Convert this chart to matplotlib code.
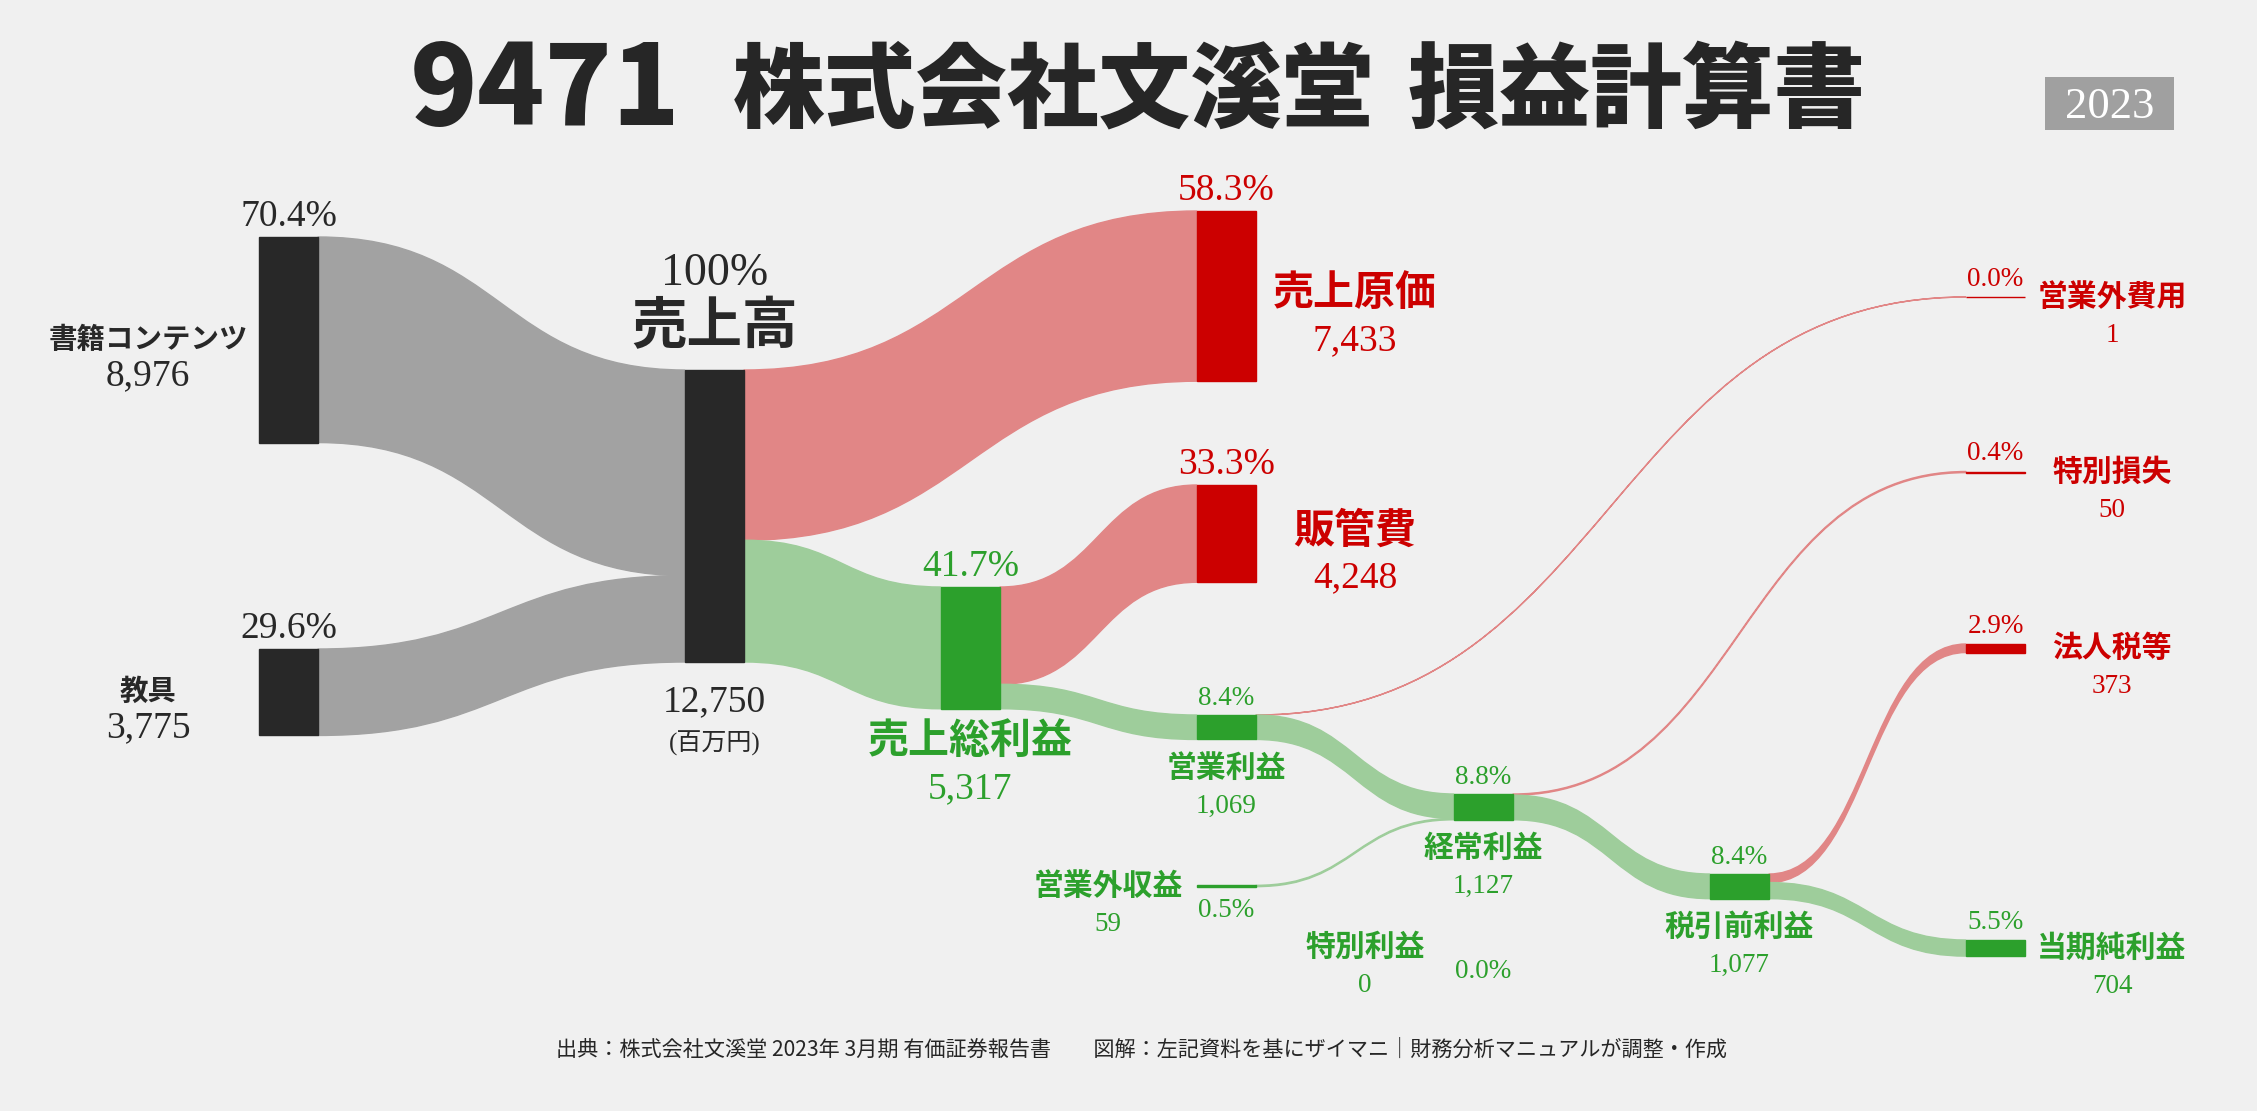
import matplotlib
matplotlib.use("Agg")
import matplotlib.pyplot as plt
from matplotlib.path import Path
from matplotlib.patches import PathPatch, Rectangle

# ------------------------------------
# 1. Data (百万円)
# ------------------------------------
segment_names = ["書籍コンテンツ", "教具"]
segment_values = [8976, 3775]
sales_value = 12750
cost_names = ["売上原価", "販管費"]
cost_values = [7433, 4248]
gross_profit = 5317
operating_profit = 1069
non_op_income = 59
non_op_expense = 1
ordinary_profit = 1127
extra_gain = 0
extra_loss = 50
pretax_profit = 1077
income_tax = 373
net_income = 704

title_parts = ["9471", "株式会社文溪堂", "損益計算書"]
year_label = "2023"
footer = "出典：株式会社文溪堂 2023年 3月期 有価証券報告書　　図解：左記資料を基にザイマニ｜財務分析マニュアルが調整・作成"

# ------------------------------------
# 2. Style / layout
# ------------------------------------
BG = "#f0f0f0"
DARK = "#282828"
RED = "#cc0000"
GREEN = "#2ca02c"
LINK = {"base": "#a2a2a2", "cost": "#e18686", "profit": "#9ecd9b"}
NODE = {"base": DARK, "cost": RED, "profit": GREEN}
TXT = {"base": DARK, "cost": RED, "profit": GREEN}

SANS = ["Noto Sans CJK JP", "DejaVu Sans"]
SERIF = ["Liberation Serif", "Noto Sans CJK JP"]

W, H = 2257, 1111
COL_X = [259, 685, 941, 1197, 1454, 1710, 1966]
NODE_W = 59
SCALE = 292 / sales_value  # px per 百万円

# name -> (value, kind, column, top y)
nodes = {
    "書籍コンテンツ": (segment_values[0], "base", 0, 237),
    "教具": (segment_values[1], "base", 0, 649),
    "売上高": (sales_value, "base", 1, 370),
    "売上原価": (cost_values[0], "cost", 3, 211),
    "販管費": (cost_values[1], "cost", 3, 485),
    "売上総利益": (gross_profit, "profit", 2, 587),
    "営業利益": (operating_profit, "profit", 3, 715),
    "営業外収益": (non_op_income, "profit", 3, 885.3),
    "営業外費用": (non_op_expense, "cost", 6, 297),
    "経常利益": (ordinary_profit, "profit", 4, 794),
    "特別利益": (extra_gain, "profit", 4, 947),
    "特別損失": (extra_loss, "cost", 6, 471.5),
    "税引前利益": (pretax_profit, "profit", 5, 874),
    "法人税等": (income_tax, "cost", 6, 644),
    "当期純利益": (net_income, "profit", 6, 940),
}

links = [
    ("書籍コンテンツ", "売上高", segment_values[0]),
    ("教具", "売上高", segment_values[1]),
    ("売上高", "売上原価", cost_values[0]),
    ("売上高", "売上総利益", gross_profit),
    ("売上総利益", "販管費", cost_values[1]),
    ("売上総利益", "営業利益", operating_profit),
    ("営業利益", "営業外費用", non_op_expense),
    ("営業利益", "経常利益", operating_profit - non_op_expense),
    ("営業外収益", "経常利益", non_op_income),
    ("経常利益", "特別損失", extra_loss),
    ("経常利益", "税引前利益", ordinary_profit - extra_loss),
    ("特別利益", "税引前利益", extra_gain),
    ("税引前利益", "法人税等", income_tax),
    ("税引前利益", "当期純利益", net_income),
]


def geom(n):
    v, kind, col, top = nodes[n]
    x0 = COL_X[col]
    h = v * SCALE
    return x0, top, h


fig = plt.figure(figsize=(W / 100, H / 100), dpi=100, facecolor=BG)
ax = fig.add_axes([0, 0, 1, 1])
ax.set_xlim(0, W)
ax.set_ylim(H, 0)
ax.axis("off")
ax.set_facecolor(BG)

# ------------------------------------
# 3. Links
# ------------------------------------
out_off = {n: 0.0 for n in nodes}
in_off = {n: 0.0 for n in nodes}
for src, tgt, v in links:
    sx, stop, _ = geom(src)
    tx, ttop, _ = geom(tgt)
    h = v * SCALE
    x0 = sx + NODE_W
    x1 = tx
    y0 = stop + out_off[src]
    y1 = ttop + in_off[tgt]
    out_off[src] += h
    in_off[tgt] += h
    if v <= 0:
        continue
    xm = (x0 + x1) / 2
    verts = [(x0, y0), (xm, y0), (xm, y1), (x1, y1),
             (x1, y1 + h), (xm, y1 + h), (xm, y0 + h), (x0, y0 + h), (x0, y0)]
    codes = [Path.MOVETO, Path.CURVE4, Path.CURVE4, Path.CURVE4,
             Path.LINETO, Path.CURVE4, Path.CURVE4, Path.CURVE4, Path.CLOSEPOLY]
    col = LINK[nodes[tgt][1]]
    ax.add_patch(PathPatch(Path(verts, codes), facecolor=col, edgecolor=col,
                           lw=1.0, zorder=1))

# ------------------------------------
# 4. Nodes
# ------------------------------------
for n, (v, kind, col, top) in nodes.items():
    if v <= 0:
        continue
    x0, top, h = geom(n)
    ax.add_patch(Rectangle((x0, top), NODE_W, h, facecolor=NODE[kind],
                           edgecolor=NODE[kind], lw=1.0, zorder=2))

# ------------------------------------
# 5. Labels
# ------------------------------------
BIG_NUM, SMALL_NUM = 27, 19.5
NAME_XL, NAME_L, NAME_S = 40, 29.5, 21.5


def pct(v):
    return f"{v / sales_value * 100:.1f}%"


def num(x, y, s, size, color):
    ax.text(x, y, s, fontsize=size, color=color, ha="center", va="baseline",
            family=SERIF, zorder=3)


def name(x, y, s, size, color):
    ax.text(x, y, s, fontsize=size, color=color, ha="center", va="center",
            family=SANS, weight="bold", zorder=3)


def info(n):
    v, kind, col, top = nodes[n]
    x0, top, h = geom(n)
    return v, TXT[kind], x0 + NODE_W / 2, top, top + h, top + h / 2, x0


# left segments
for n in segment_names:
    v, c, cx, top, bot, cy, x0 = info(n)
    num(cx, top - 11, pct(v), BIG_NUM, c)
    name(x0 - 111, cy, n, 20.5, c)
    num(x0 - 111, cy + 45, f"{v:,}", BIG_NUM, c)

# sales
v, c, cx, top, bot, cy, x0 = info("売上高")
num(cx, top - 85, "100%", 33, c)
name(cx, top - 43, "売上高", NAME_XL, c)
num(cx, bot + 49, f"{v:,}", BIG_NUM, c)
ax.text(cx, bot + 81, "(百万円)", fontsize=18, color=c, ha="center",
        va="center", family=SERIF)

# costs
for n in cost_names:
    v, c, cx, top, bot, cy, x0 = info(n)
    num(cx, top - 11, pct(v), BIG_NUM, c)
    name(x0 + NODE_W + 99, cy - 3, n, NAME_L, c)
    num(x0 + NODE_W + 99, cy + 54, f"{v:,}", BIG_NUM, c)

# gross profit
v, c, cx, top, bot, cy, x0 = info("売上総利益")
num(cx, top - 11, pct(v), BIG_NUM, c)
name(cx, bot + 32, "売上総利益", NAME_L, c)
num(cx, bot + 89, f"{v:,}", BIG_NUM, c)

# middle profits
for n in ["営業利益", "経常利益", "税引前利益"]:
    v, c, cx, top, bot, cy, x0 = info(n)
    num(cx, top - 10, pct(v), SMALL_NUM, c)
    name(cx, bot + 28, n, NAME_S, c)
    num(cx, bot + 73, f"{v:,}", SMALL_NUM, c)

# small inflows (label on the left)
for n in ["営業外収益", "特別利益"]:
    v, c, cx, top, bot, cy, x0 = info(n)
    name(x0 - 89, cy, n, NAME_S, c)
    num(x0 - 89, cy + 45, f"{v:,}", SMALL_NUM, c)
    num(cx, cy + 31, pct(v), SMALL_NUM, c)

# right side outputs
for n in ["営業外費用", "特別損失", "法人税等", "当期純利益"]:
    v, c, cx, top, bot, cy, x0 = info(n)
    num(cx, top - 11, pct(v), SMALL_NUM, c)
    name(x0 + NODE_W + 87, cy, n, NAME_S, c)
    num(x0 + NODE_W + 87, cy + 45, f"{v:,}", SMALL_NUM, c)

# ------------------------------------
# 6. Title, year badge, footer
# ------------------------------------
title_x = [545, 1054, 1637]
title_size = [80, 66, 66]
for s, x, fs in zip(title_parts, title_x, title_size):
    ax.text(x, 92, s, fontsize=fs, color="#262626", ha="center", va="center",
            family=SANS, weight=900)
ax.add_patch(Rectangle((2045, 77), 129, 53, facecolor="#a0a0a0", edgecolor="none"))
ax.text(2109.5, 118, year_label, fontsize=32, color="white", ha="center",
        va="baseline", family=SERIF)
ax.text(1141, 1050, footer, fontsize=15.2, color="#262626", ha="center",
        va="center", family=SANS)

fig.savefig("out.png", dpi=100, facecolor=BG)
print("done")
